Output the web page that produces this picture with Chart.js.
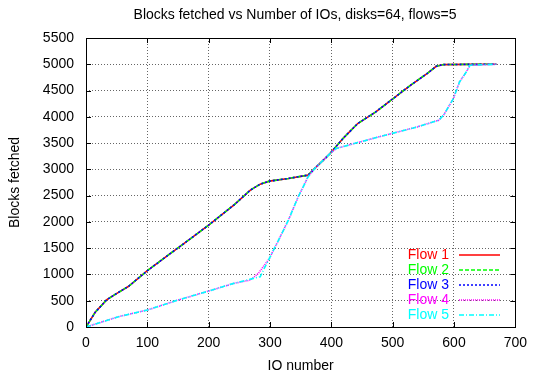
<!DOCTYPE html>
<html lang="en">
  <head>
    <meta charset="UTF-8" />
    <title>Blocks fetched vs Number of IOs</title>
    <script src="https://cdn.jsdelivr.net/npm/chart.js"></script>
    <style>
      body {
        margin: 0;
        background: #fff;
      }
      .chart-box {
        width: 535px;
        height: 373px;
      }
    </style>
  </head>
  <body>
    <div class="chart-box">
      <canvas id="blocksChart"></canvas>
    </div>

    <script>
      // Flows 1-3 follow the same curve
      const ioFast = [0, 15, 34, 53, 69, 100, 134, 160, 200, 241, 268, 284, 299, 330, 362, 373, 398, 420, 443, 472, 499, 529, 556, 571, 583, 620, 669];
      const blocksFast = [0, 280, 520, 660, 770, 1071, 1369, 1591, 1939, 2319, 2605, 2719, 2776, 2827, 2890, 3017, 3302, 3600, 3872, 4090, 4330, 4600, 4823, 4962, 4994, 4998, 5000];

      // Flow 4
      const ioFlow4 = [0, 53, 100, 150, 200, 241, 268, 281, 299, 314, 330, 346, 362, 373, 398, 408, 443, 499, 540, 575, 583, 599, 609, 620, 626, 669];
      const blocksFlow4 = [0, 196, 323, 513, 684, 830, 893, 1020, 1306, 1654, 2034, 2477, 2857, 3017, 3302, 3397, 3510, 3685, 3808, 3935, 4030, 4348, 4663, 4853, 4981, 5000];

      // Flow 5
      const ioFlow5 = [0, 53, 100, 150, 200, 241, 273, 284, 292, 299, 314, 330, 346, 362, 373, 398, 408, 443, 499, 540, 575, 583, 599, 609, 620, 626, 669];
      const blocksFlow5 = [0, 196, 323, 513, 684, 830, 925, 956, 1147, 1306, 1654, 2034, 2477, 2857, 3017, 3302, 3397, 3510, 3685, 3808, 3935, 4030, 4348, 4663, 4853, 4981, 5000];

      const flowNames = ["Flow 1", "Flow 2", "Flow 3", "Flow 4", "Flow 5"];
      const flowColors = ["#ff0000", "#00ff00", "#0000ff", "#ff00ff", "#00ffff"];
      const flowDashes = [[], [4, 2], [2, 2], [1, 1], [5, 2, 1, 2]];

      const chartTitle = "Blocks fetched vs Number of IOs, disks=64, flows=5";
      const xTicks = { min: 0, max: 700, step: 100 };
      const yTicks = { min: 0, max: 5500, step: 500 };

      function toPoints(xs, ys) {
        return xs.map((x, i) => ({ x: x, y: ys[i] }));
      }

      const flowSeries = [
        toPoints(ioFast, blocksFast),
        toPoints(ioFast, blocksFast),
        toPoints(ioFast, blocksFast),
        toPoints(ioFlow4, blocksFlow4),
        toPoints(ioFlow5, blocksFlow5),
      ];

      const fontFamily = "'Liberation Sans', Arial, Helvetica, sans-serif";

      // gnuplot-like frame: title, full border, inward ticks and a key on the right
      const framePlugin = {
        id: "frame",
        afterDraw(chart) {
          const { ctx, chartArea: a, scales } = chart;
          ctx.save();

          ctx.font = "14px " + fontFamily;
          ctx.fillStyle = "#000";
          ctx.textAlign = "center";
          ctx.textBaseline = "middle";
          ctx.fillText(chartTitle, 295, 15);

          ctx.strokeStyle = "#000";
          ctx.lineWidth = 1;
          ctx.setLineDash([]);
          ctx.beginPath();
          scales.x.ticks.forEach((t) => {
            const px = Math.round(scales.x.getPixelForValue(t.value)) + 0.5;
            ctx.moveTo(px, a.bottom);
            ctx.lineTo(px, a.bottom - 5);
            ctx.moveTo(px, a.top);
            ctx.lineTo(px, a.top + 5);
          });
          scales.y.ticks.forEach((t) => {
            const py = Math.round(scales.y.getPixelForValue(t.value)) + 0.5;
            ctx.moveTo(a.left, py);
            ctx.lineTo(a.left + 5, py);
            ctx.moveTo(a.right, py);
            ctx.lineTo(a.right - 5, py);
          });
          ctx.stroke();
          ctx.strokeRect(Math.round(a.left) + 0.5, Math.round(a.top) + 0.5, Math.round(a.right - a.left), Math.round(a.bottom - a.top));

          // key
          ctx.textAlign = "right";
          ctx.lineWidth = 1.6;
          chart.data.datasets.forEach((ds, i) => {
            const y = 255 + i * 15;
            ctx.fillStyle = ds.borderColor;
            ctx.fillText(ds.label, 449, y);
            ctx.strokeStyle = ds.borderColor;
            ctx.setLineDash(ds.borderDash);
            ctx.beginPath();
            ctx.moveTo(459, y);
            ctx.lineTo(500, y);
            ctx.stroke();
          });
          ctx.restore();
        },
      };

      new Chart(document.getElementById("blocksChart"), {
        type: "line",
        data: {
          datasets: flowNames.map((name, i) => ({
            label: name,
            data: flowSeries[i],
            borderColor: flowColors[i],
            borderDash: flowDashes[i],
            borderWidth: 1.6,
            pointRadius: 0,
            fill: false,
            tension: 0,
            order: flowNames.length - i,
          })),
        },
        options: {
          responsive: true,
          maintainAspectRatio: false,
          animation: false,
          layout: { padding: { left: 0, right: 16, top: 38, bottom: 0 } },
          plugins: {
            legend: { display: false },
            tooltip: { enabled: false },
            title: { display: false },
          },
          scales: {
            x: {
              type: "linear",
              min: xTicks.min,
              max: xTicks.max,
              afterFit(scale) {
                scale.height = 46;
              },
              ticks: {
                stepSize: xTicks.step,
                color: "#000",
                padding: 8,
                maxRotation: 0,
                font: { family: fontFamily, size: 14 },
                callback: (v) => String(v),
              },
              grid: {
                color: "rgba(0,0,0,0.6)",
                drawTicks: false,
              },
              border: { display: false, dash: [1, 2] },
              title: {
                display: true,
                text: "IO number",
                color: "#000",
                font: { family: fontFamily, size: 14, lineHeight: 1 },
                padding: { top: 0, bottom: 0 },
              },
            },
            y: {
              type: "linear",
              min: yTicks.min,
              max: yTicks.max,
              afterFit(scale) {
                scale.width = 86;
              },
              ticks: {
                stepSize: yTicks.step,
                color: "#000",
                padding: 12,
                font: { family: fontFamily, size: 14 },
                callback: (v) => String(v),
              },
              grid: {
                color: "rgba(0,0,0,0.6)",
                drawTicks: false,
              },
              border: { display: false, dash: [1, 2] },
              title: {
                display: true,
                text: "Blocks fetched",
                color: "#000",
                font: { family: fontFamily, size: 14, lineHeight: 1 },
                padding: { top: 8, bottom: 0 },
              },
            },
          },
        },
        plugins: [framePlugin],
      });
    </script>
  </body>
</html>
